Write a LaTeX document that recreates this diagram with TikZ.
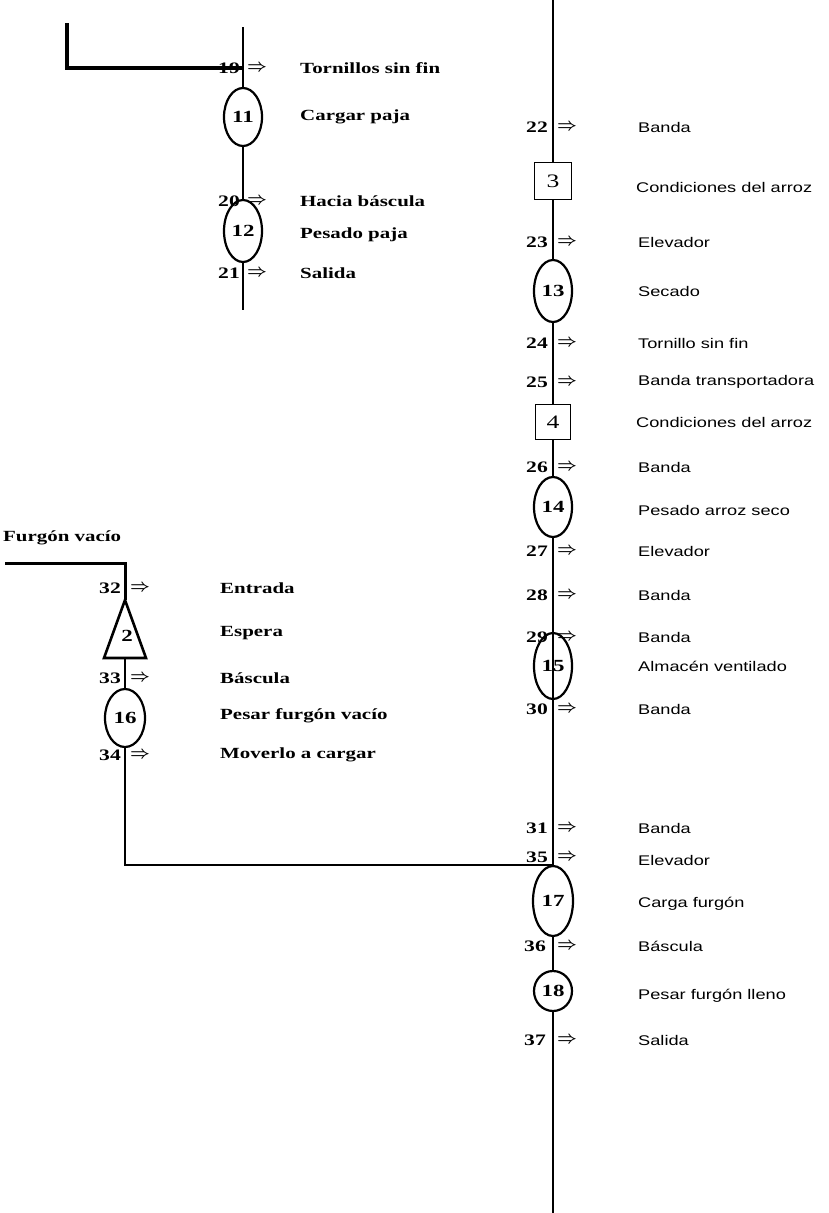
\documentclass[tikz,border=0pt]{standalone}
\usepackage{fontspec}
\setmainfont{Liberation Serif}
\newfontfamily\wserif[FakeStretch=1.35]{Liberation Serif}
\newfontfamily\wsans[FakeStretch=1.3]{Liberation Sans}
\usetikzlibrary{shapes.geometric}
\begin{document}
\begin{tikzpicture}[x=1pt,y=-1pt,
  flow/.style={line width=2.4pt},
  heavy/.style={line width=3.6pt},
  op/.style={draw, ellipse, line width=2.2pt, minimum width=38pt, minimum height=60pt, inner sep=0pt, fill=white, font=\wserif\bfseries\fontsize{17}{17}\selectfont},
  insp/.style={draw, rectangle, line width=1.6pt, minimum size=37pt, inner sep=0pt, fill=white, font=\wserif\fontsize{19}{19}\selectfont},
  num/.style={anchor=east, inner sep=0pt, font=\wserif\bfseries\fontsize{16}{16}\selectfont},
  arr/.style={anchor=west, inner sep=0pt, font=\boldmath\fontsize{19}{19}\selectfont},
  lblL/.style={anchor=west, inner sep=0pt, font=\wserif\bfseries\fontsize{15.5}{15.5}\selectfont},
  lblR/.style={anchor=west, inner sep=0pt, font=\wsans\fontsize{14}{14}\selectfont},
]
\useasboundingbox (0,0) rectangle (829,1213);

% ---------- top-left group ----------
\coordinate (tlA) at (67,23);
\coordinate (tlB) at (67,68);
\coordinate (j19) at (243,68);
\coordinate (tlTop) at (243,27);
\coordinate (tlBot) at (243,310);
\node[op, minimum height=58pt] (o11) at (243,117) {11};
\node[op, minimum height=62pt] (o12) at (243,231) {12};
\draw[heavy] (tlA) -- (tlB) -- (j19);
\draw[flow] (tlTop) -- (o11) -- (o12) -- (tlBot);

\node[num] (n19) at (240,68) {19};
\node[arr] (a19) at (247,68) {$\Rightarrow$};
\node[lblL] (t19) at (300,68) {Tornillos sin fin};
\node[lblL] (t11) at (300,117) {Cargar paja};
\node[num] (n20) at (240,201) {20};
\node[arr] (a20) at (247,201) {$\Rightarrow$};
\node[lblL] (t20) at (300,201) {Hacia báscula};
\node[lblL] (t12) at (300,235) {Pesado paja};
\node[num] (n21) at (240,273) {21};
\node[arr] (a21) at (247,273) {$\Rightarrow$};
\node[lblL] (t21) at (300,273) {Salida};

% ---------- main right column ----------
\coordinate (rTop) at (553,0);
\coordinate (rBot) at (553,1213);
\node[insp] (b3) at (553,181) {3};
\node[op, minimum height=62pt] (o13) at (553,291) {13};
\node[insp, minimum size=35pt] (b4) at (553,422) {4};
\node[op] (o14) at (553,507) {14};
\node[op, draw, fill=none, minimum height=66pt] (o15) at (553,666) {15};
\node[op, minimum height=70pt, minimum width=40pt] (o17) at (553,901) {17};
\node[op, minimum height=40pt] (o18) at (553,991) {18};
\draw[flow] (rTop) -- (b3) -- (o13) -- (b4) -- (o14) -- (o17) -- (o18) -- (rBot);

\node[num] (n22) at (548,127) {22};
\node[arr] (a22) at (557,127) {$\Rightarrow$};
\node[lblR] (t22) at (638,127) {Banda};
\node[lblR] (t3) at (636,187) {Condiciones del arroz};
\node[num] (n23) at (548,242) {23};
\node[arr] (a23) at (557,242) {$\Rightarrow$};
\node[lblR] (t23) at (638,242) {Elevador};
\node[lblR] (t13) at (638,291) {Secado};
\node[num] (n24) at (548,343) {24};
\node[arr] (a24) at (557,343) {$\Rightarrow$};
\node[lblR] (t24) at (638,343) {Tornillo sin fin};
\node[num] (n25) at (548,382) {25};
\node[arr] (a25) at (557,382) {$\Rightarrow$};
\node[lblR] (t25) at (638,382) {Banda transportadora};
\node[lblR] (t4) at (636,422) {Condiciones del arroz};
\node[num] (n26) at (548,467) {26};
\node[arr] (a26) at (557,467) {$\Rightarrow$};
\node[lblR] (t26) at (638,467) {Banda};
\node[lblR] (t14) at (638,510) {Pesado arroz seco};
\node[num] (n27) at (548,551) {27};
\node[arr] (a27) at (557,551) {$\Rightarrow$};
\node[lblR] (t27) at (638,551) {Elevador};
\node[num] (n28) at (548,595) {28};
\node[arr] (a28) at (557,595) {$\Rightarrow$};
\node[lblR] (t28) at (638,595) {Banda};
\node[num] (n29) at (548,637) {29};
\node[arr] (a29) at (557,637) {$\Rightarrow$};
\node[lblR] (t29) at (638,637) {Banda};
\node[lblR] (t15) at (638,666) {Almacén ventilado};
\node[num] (n30) at (548,709) {30};
\node[arr] (a30) at (557,709) {$\Rightarrow$};
\node[lblR] (t30) at (638,709) {Banda};
\node[num] (n31) at (548,828) {31};
\node[arr] (a31) at (557,828) {$\Rightarrow$};
\node[lblR] (t31) at (638,828) {Banda};
\node[num] (n35) at (548,857) {35};
\node[arr] (a35) at (557,857) {$\Rightarrow$};
\node[lblR] (t35) at (638,860) {Elevador};
\node[lblR] (t17) at (638,904) {Carga furgón};
\node[num] (n36) at (546,946) {36};
\node[arr] (a36) at (557,946) {$\Rightarrow$};
\node[lblR] (t36) at (638,946) {Báscula};
\node[lblR] (t18) at (638,996) {Pesar furgón lleno};
\node[num] (n37) at (546,1040) {37};
\node[arr] (a37) at (557,1040) {$\Rightarrow$};
\node[lblR] (t37) at (638,1040) {Salida};

% ---------- left group ----------
\node[lblL, anchor=west] (fv) at (3,538) {Furgón vacío};
\coordinate (fvA) at (5,563);
\coordinate (fvB) at (125,563);
\coordinate (t2apex) at (125,600);
\coordinate (t2r) at (146,658);
\coordinate (t2l) at (104,658);
\coordinate (t2base) at (125,658);
\node[op, minimum height=58pt, minimum width=40pt] (o16) at (125,718) {16};
\coordinate (jL) at (125,865);
\coordinate (j35) at (553,865);
\draw[heavy, line width=3pt] (fvA) -- (fvB) -- (t2apex);
\draw[line width=2.6pt, line join=miter] (t2apex) -- (t2r) -- (t2l) -- cycle;
\node[font=\wserif\bfseries\fontsize{17}{17}\selectfont] (s2) at (127,636) {2};
\draw[flow] (t2base) -- (o16);
\draw[flow] (o16) -- (jL) -- (j35);

\node[num] (n32) at (121,588) {32};
\node[arr] (a32) at (130,588) {$\Rightarrow$};
\node[lblL] (t32) at (220,588) {Entrada};
\node[lblL] (t2) at (220,633) {Espera};
\node[num] (n33) at (121,678) {33};
\node[arr] (a33) at (130,678) {$\Rightarrow$};
\node[lblL] (t33) at (220,678) {Báscula};
\node[lblL] (t16) at (220,716) {Pesar furgón vacío};
\node[num] (n34) at (121,755) {34};
\node[arr] (a34) at (130,755) {$\Rightarrow$};
\node[lblL] (t34) at (220,755) {Moverlo a cargar};
\end{tikzpicture}
\end{document}
